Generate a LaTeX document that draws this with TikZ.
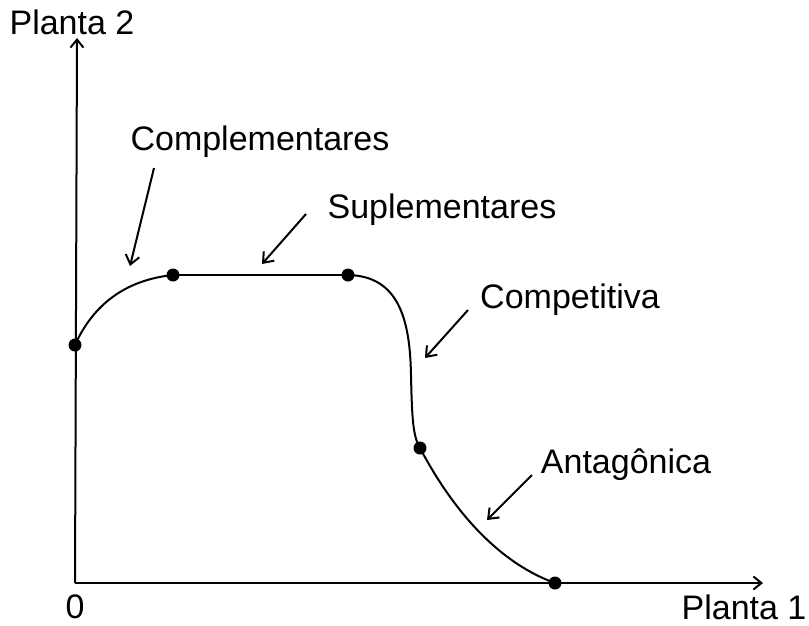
\documentclass[tikz,border=0pt]{standalone}
\usepackage{fontspec}
\setmainfont{Liberation Sans}
\usetikzlibrary{positioning,arrows.meta,calc}

\begin{document}
\begin{tikzpicture}[
  x=1pt, y=-1pt,
  lbl/.style={font=\fontsize{34}{38}\selectfont, inner sep=0pt},
  dot/.style={circle, fill=black, inner sep=0pt, minimum size=13pt},
  axis/.style={-{Straight Barb[length=8pt, width=13pt]}, line width=2pt},
  arr/.style={-{Straight Barb[length=9pt, width=14pt]}, line width=2pt},
  curve/.style={line width=2pt}
]
\useasboundingbox (0,0) rectangle (809,625);
% axes
\coordinate (o) at (75,583);
\coordinate (ytop) at (77,38);
\coordinate (xend) at (763,583);
\draw[axis] (o) -- (ytop);
\draw[axis] (o) -- (xend);
\node[lbl] (ylab) at (72,22) {Planta 2};
\node[lbl] (xlab) at (744,607) {Planta 1};
\node[lbl] (zero) at (75,607) {0};

% points on the curve
\node[dot] (p1) at (75,345) {};
\node[dot] (p2) at (173,275) {};
\node[dot] (p3) at (348,275) {};
\node[dot] (p4) at (420,448) {};
\node[dot] (p5) at (555,583) {};

\draw[curve] (p1.center) .. controls (93,305) and (125,280) .. (p2.center);
\draw[curve] (p2.center) -- (p3.center);
\draw[curve] (p3.center) .. controls (398,276) and (410,318) .. (411,375)
  .. controls (412,420) and (413,436) .. (p4.center);
\draw[curve] (p4.center) .. controls (458,520) and (505,565) .. (p5.center);

% labels and arrows
\node[lbl] (compl) at (260,142) {Complementares};
\node[lbl] (supl) at (442,210) {Suplementares};
\node[lbl] (compt) at (570,300) {Competitiva};
\node[lbl] (antag) at (626,465) {Antagônica};

\coordinate (a1) at (154,168);
\coordinate (b1) at (130,266);
\coordinate (a2) at (306,214);
\coordinate (b2) at (262,264);
\coordinate (a3) at (468,310);
\coordinate (b3) at (425,358);
\coordinate (a4) at (532,475);
\coordinate (b4) at (487,520);
\draw[arr] (a1) -- (b1);
\draw[arr] (a2) -- (b2);
\draw[arr] (a3) -- (b3);
\draw[arr] (a4) -- (b4);
\end{tikzpicture}
\end{document}
